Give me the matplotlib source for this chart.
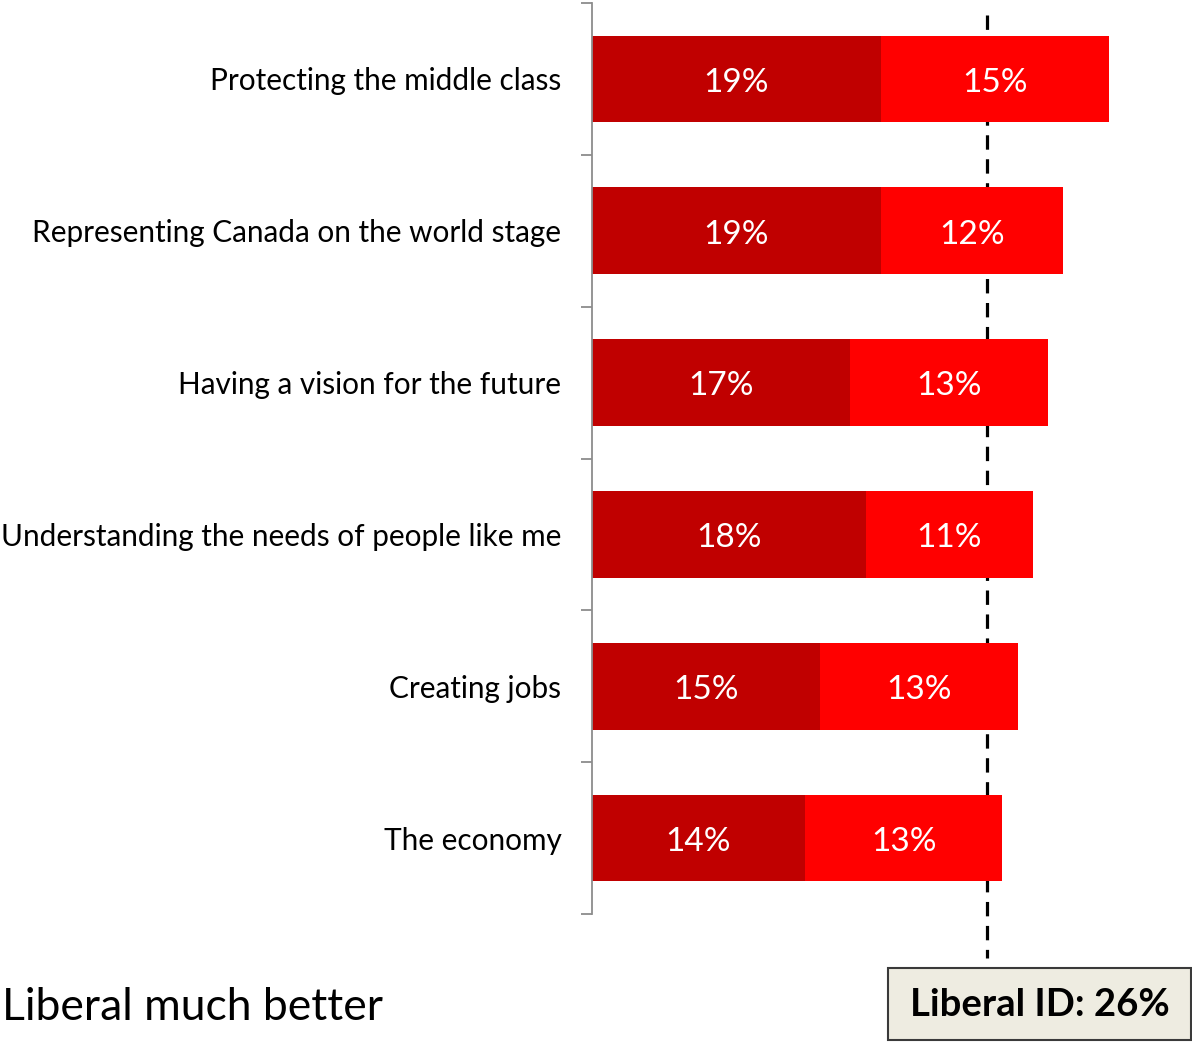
import matplotlib.pyplot as plt
from matplotlib.patches import Rectangle

categories = ["Protecting the middle class",
              "Representing Canada on the world stage",
              "Having a vision for the future",
              "Understanding the needs of people like me",
              "Creating jobs",
              "The economy"]
much_better = [19, 19, 17, 18, 15, 14]
somewhat_better = [15, 12, 13, 11, 13, 13]
liberal_id = 26

plt.rcParams['font.family'] = ['Lato', 'DejaVu Sans']

fig = plt.figure(figsize=(11.92, 10.44), dpi=100)
ax = fig.add_axes([592 / 1192, 1 - 914 / 1044, 600 / 1192, 911 / 1044])

y = list(range(len(categories)))
ax.barh(y, much_better, height=0.57, color='#C00000', zorder=2)
ax.barh(y, somewhat_better, left=much_better, height=0.57, color='#FF0000', zorder=2)

for i in y:
    ax.text(much_better[i] / 2, i + 0.025, f"{much_better[i]}%", ha='center', va='center',
            color='white', fontsize=24, zorder=3)
    ax.text(much_better[i] + somewhat_better[i] / 2, i + 0.025, f"{somewhat_better[i]}%",
            ha='center', va='center', color='white', fontsize=24, zorder=3)

# dashed reference line, runs below the axis
ax.plot([liberal_id, liberal_id], [-0.42, 5.79], color='black', lw=2.3,
        dashes=(4.5, 3), clip_on=False, zorder=1)

ax.set_xlim(0, 600 / 15.2)
ax.set_ylim(len(categories) - 0.5, -0.5)

ax.set_yticks([i - 0.5 for i in range(len(categories) + 1)])
ax.set_yticklabels([])
ax.tick_params(axis='y', which='major', length=8, width=1.3, color='#8C8C8C')
ax.set_yticks(y, minor=True)
ax.set_yticklabels(categories, minor=True, fontsize=21.4)
ax.tick_params(axis='y', which='minor', length=0, pad=22)
ax.set_xticks([])

for s in ['top', 'right', 'bottom']:
    ax.spines[s].set_visible(False)
ax.spines['left'].set_color('#8C8C8C')
ax.spines['left'].set_linewidth(1.3)

fig.text(2 / 1192, 1 - 1008 / 1044, "Liberal much better", fontsize=32,
         ha='left', va='center')

fig.patches.append(Rectangle((888 / 1192, 1 - 1040 / 1044), 303 / 1192, 72 / 1044,
                             transform=fig.transFigure, facecolor='#EEECE1',
                             edgecolor='#3A3A3A', lw=1.5))
fig.text(1040 / 1192, 1 - 1005 / 1044, f"Liberal ID: {liberal_id}%", fontsize=27.5,
         fontweight='bold', ha='center', va='center')

fig.savefig('out.png', dpi=100)
